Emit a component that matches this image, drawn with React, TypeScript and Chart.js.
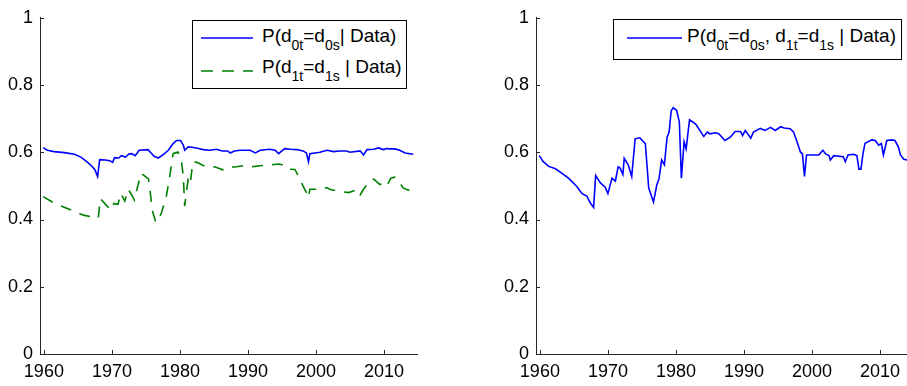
import React, { useEffect, useRef } from "react";
import { Chart, registerables } from "chart.js";
Chart.register(...registerables);

const xTickYears = [1960, 1970, 1980, 1990, 2000, 2010];
const yTickValues = [0, 0.2, 0.4, 0.6, 0.8, 1];

const leftBlueYears = [1959.9, 1960.5, 1961.5, 1963.0, 1964.5, 1965.5, 1966.3, 1967.0, 1967.5, 1967.9, 1968.2, 1969.0, 1969.7, 1970.1, 1970.4, 1971.0, 1971.4, 1972.0, 1972.5, 1972.9, 1973.4, 1973.7, 1974.0, 1975.3, 1975.8, 1976.2, 1976.8, 1977.5, 1978.3, 1979.0, 1979.5, 1980.1, 1980.5, 1980.7, 1981.2, 1982.0, 1982.6, 1983.4, 1984.4, 1985.4, 1986.2, 1987.0, 1987.4, 1988.0, 1988.9, 1990.3, 1991.1, 1991.8, 1993.2, 1994.0, 1994.5, 1995.4, 1996.3, 1997.2, 1998.1, 1998.6, 1998.9, 1999.1, 2000.6, 2001.6, 2002.6, 2003.5, 2004.5, 2005.0, 2006.5, 2007.0, 2007.5, 2008.5, 2009.2, 2009.9, 2010.4, 2011.0, 2011.6, 2012.3, 2013.1, 2014.3];
const leftBlueValues = [0.614, 0.606, 0.602, 0.599, 0.594, 0.585, 0.572, 0.56, 0.548, 0.528, 0.578, 0.577, 0.575, 0.57, 0.584, 0.583, 0.59, 0.586, 0.595, 0.596, 0.59, 0.597, 0.606, 0.608, 0.597, 0.588, 0.583, 0.592, 0.606, 0.626, 0.635, 0.635, 0.621, 0.606, 0.616, 0.614, 0.612, 0.608, 0.606, 0.609, 0.604, 0.604, 0.598, 0.604, 0.606, 0.606, 0.598, 0.606, 0.609, 0.606, 0.596, 0.611, 0.609, 0.608, 0.604, 0.598, 0.572, 0.596, 0.6, 0.606, 0.602, 0.604, 0.604, 0.6, 0.604, 0.592, 0.608, 0.609, 0.613, 0.608, 0.611, 0.61, 0.61, 0.606, 0.598, 0.594];

const leftGreenYears = [1959.9, 1961.4, 1962.8, 1964.3, 1965.8, 1967.5, 1968.0, 1968.3, 1969.3, 1969.9, 1970.3, 1970.9, 1971.3, 1971.9, 1972.4, 1973.0, 1973.3, 1973.8, 1974.3, 1974.8, 1975.4, 1975.7, 1975.9, 1976.4, 1976.7, 1977.3, 1978.0, 1978.5, 1979.0, 1979.7, 1980.2, 1980.5, 1980.7, 1981.0, 1981.2, 1981.5, 1981.9, 1982.5, 1983.2, 1984.0, 1985.0, 1985.4, 1986.3, 1987.1, 1988.3, 1989.3, 1990.3, 1991.0, 1991.8, 1993.2, 1994.5, 1995.0, 1995.7, 1996.9, 1997.6, 1998.1, 1998.6, 1998.9, 1999.1, 2000.0, 2000.8, 2001.6, 2002.1, 2003.5, 2004.8, 2005.5, 2006.2, 2006.5, 2007.0, 2007.5, 2008.0, 2008.5, 2009.4, 2009.9, 2010.4, 2011.0, 2011.6, 2012.1, 2012.8, 2013.5, 2014.3];
const leftGreenValues = [0.468, 0.45, 0.438, 0.426, 0.413, 0.406, 0.405, 0.462, 0.44, 0.428, 0.448, 0.445, 0.478, 0.455, 0.49, 0.47, 0.458, 0.5, 0.538, 0.53, 0.52, 0.47, 0.43, 0.395, 0.392, 0.421, 0.47, 0.528, 0.596, 0.601, 0.577, 0.528, 0.44, 0.489, 0.518, 0.504, 0.572, 0.57, 0.563, 0.555, 0.557, 0.555, 0.548, 0.555, 0.557, 0.56, 0.557, 0.558, 0.56, 0.562, 0.565, 0.563, 0.55, 0.549, 0.523, 0.499, 0.48, 0.465, 0.49, 0.49, 0.489, 0.495, 0.489, 0.484, 0.48, 0.485, 0.489, 0.474, 0.49, 0.504, 0.516, 0.52, 0.504, 0.507, 0.499, 0.523, 0.526, 0.518, 0.494, 0.488, 0.489];

const rightBlueYears = [1959.9, 1960.5, 1961.3, 1962.3, 1963.2, 1964.2, 1965.4, 1966.2, 1966.9, 1967.4, 1967.9, 1968.2, 1968.9, 1969.6, 1970.0, 1970.6, 1971.1, 1971.5, 1971.8, 1972.2, 1972.4, 1973.0, 1973.5, 1974.0, 1974.7, 1975.5, 1976.0, 1976.7, 1977.2, 1977.5, 1977.9, 1978.3, 1978.7, 1979.0, 1979.3, 1979.6, 1980.1, 1980.5, 1980.8, 1981.2, 1981.5, 1982.0, 1982.9, 1984.1, 1984.6, 1985.0, 1985.8, 1986.3, 1987.2, 1988.0, 1988.7, 1989.5, 1989.8, 1990.2, 1991.0, 1991.4, 1992.4, 1993.1, 1993.9, 1994.6, 1995.4, 1995.9, 1996.8, 1997.3, 1997.8, 1998.3, 1998.6, 1998.9, 1999.2, 1999.8, 2001.0, 2001.6, 2002.0, 2002.5, 2002.7, 2003.2, 2004.6, 2004.9, 2005.3, 2006.1, 2006.6, 2006.9, 2007.2, 2007.5, 2007.8, 2008.8, 2009.3, 2009.8, 2010.2, 2010.5, 2011.0, 2011.7, 2012.2, 2012.7, 2013.0, 2013.5, 2014.0];
const rightBlueValues = [0.59, 0.572, 0.558, 0.551, 0.538, 0.523, 0.499, 0.477, 0.47, 0.45, 0.436, 0.531, 0.509, 0.496, 0.477, 0.523, 0.514, 0.557, 0.553, 0.534, 0.582, 0.562, 0.528, 0.64, 0.643, 0.626, 0.494, 0.452, 0.504, 0.52, 0.577, 0.563, 0.645, 0.66, 0.723, 0.733, 0.725, 0.69, 0.523, 0.631, 0.61, 0.697, 0.684, 0.647, 0.66, 0.655, 0.658, 0.655, 0.635, 0.645, 0.662, 0.662, 0.65, 0.665, 0.642, 0.66, 0.671, 0.665, 0.674, 0.665, 0.676, 0.672, 0.67, 0.66, 0.631, 0.601, 0.595, 0.528, 0.592, 0.592, 0.592, 0.606, 0.595, 0.59, 0.577, 0.59, 0.587, 0.572, 0.592, 0.594, 0.59, 0.55, 0.55, 0.596, 0.627, 0.637, 0.635, 0.621, 0.626, 0.592, 0.635, 0.637, 0.635, 0.616, 0.592, 0.579, 0.577];

const xMin = 1959.43;
const xMax = 2014.85;

const FONT = '"Liberation Sans", Arial, Helvetica, sans-serif';
const AXIS_COLOR = "#262626";

const inwardTicks = {
  id: "inwardTicks",
  afterDraw(chart: any) {
    const { ctx, chartArea, scales } = chart;
    ctx.save();
    ctx.strokeStyle = AXIS_COLOR;
    ctx.lineWidth = 1;
    scales.x.ticks.forEach((t: any) => {
      const px = Math.round(scales.x.getPixelForValue(t.value)) + 0.5;
      ctx.beginPath();
      ctx.moveTo(px, chartArea.bottom);
      ctx.lineTo(px, chartArea.bottom - 4);
      ctx.stroke();
    });
    scales.y.ticks.forEach((t: any) => {
      const py = Math.round(scales.y.getPixelForValue(t.value)) + 0.5;
      ctx.beginPath();
      ctx.moveTo(chartArea.left, py);
      ctx.lineTo(chartArea.left + 4, py);
      ctx.stroke();
    });
    ctx.restore();
  },
};

type Series = { years: number[]; values: number[]; color: string; dash?: number[] };

function makeOptions(): any {
  return {
    responsive: false,
    animation: false,
    devicePixelRatio: 1,
    layout: { padding: { left: 0, top: 12, right: 36, bottom: 0 } },
    plugins: { legend: { display: false }, tooltip: { enabled: false } },
    elements: { point: { radius: 0 }, line: { tension: 0 } },
    scales: {
      x: {
        type: "linear",
        min: xMin,
        max: xMax,
        afterBuildTicks: (s: any) => {
          s.ticks = xTickYears.map((v) => ({ value: v }));
        },
        afterFit: (s: any) => {
          s.height = 32;
        },
        grid: { display: false, drawTicks: false, tickLength: 0 },
        border: { display: true, color: AXIS_COLOR, width: 1 },
        ticks: {
          color: "#000",
          padding: 7,
          maxRotation: 0,
          autoSkip: false,
          font: { family: FONT, size: 18 },
          callback: (v: any) => String(v),
        },
      },
      y: {
        type: "linear",
        min: 0,
        max: 1,
        afterBuildTicks: (s: any) => {
          s.ticks = yTickValues.map((v) => ({ value: v }));
        },
        afterFit: (s: any) => {
          s.width = 40;
        },
        grid: { display: false, drawTicks: false, tickLength: 0 },
        border: { display: true, color: AXIS_COLOR, width: 1 },
        ticks: {
          color: "#000",
          padding: 7,
          autoSkip: false,
          font: { family: FONT, size: 18 },
          callback: (v: any) => String(v),
        },
      },
    },
  };
}

function Plot({ series, left, width }: { series: Series[]; left: number; width: number }) {
  const ref = useRef<HTMLCanvasElement>(null);
  useEffect(() => {
    if (!ref.current) return;
    const chart = new Chart(ref.current, {
      type: "line",
      data: {
        datasets: series.map((s) => ({
          data: s.years.map((y, i) => ({ x: y, y: s.values[i] })),
          borderColor: s.color,
          borderWidth: 1.6,
          borderDash: s.dash || [],
          pointRadius: 0,
          fill: false,
        })),
      },
      options: makeOptions(),
      plugins: [inwardTicks],
    } as any);
    return () => chart.destroy();
  }, []);
  return (
    <canvas
      ref={ref}
      width={width}
      height={386}
      style={{ position: "absolute", left, top: 0, width, height: 386 }}
    />
  );
}

const textStyle: React.CSSProperties = {
  position: "absolute",
  fontFamily: FONT,
  fontSize: 19,
  lineHeight: "19px",
  whiteSpace: "nowrap",
  color: "#000",
};
const subStyle: React.CSSProperties = {
  position: "relative",
  top: 8,
  fontSize: 14,
};

function Sub({ children }: { children: React.ReactNode }) {
  return <span style={subStyle}>{children}</span>;
}

function LineSample({ left, top, width, color, dash }: { left: number; top: number; width: number; color: string; dash?: string }) {
  return (
    <svg style={{ position: "absolute", left, top: top - 2 }} width={width} height={4}>
      <line x1={0} y1={2} x2={width} y2={2} stroke={color} strokeWidth={1.6} strokeDasharray={dash} />
    </svg>
  );
}

export default function App() {
  return (
    <div
      style={{
        position: "fixed",
        left: 0,
        top: 0,
        width: 907,
        height: 386,
        overflow: "hidden",
        background: "#fff",
      }}
    >
      <Plot
        left={0}
        width={453}
        series={[
          { years: leftBlueYears, values: leftBlueValues, color: "#0000ff" },
          { years: leftGreenYears, values: leftGreenValues, color: "#008000", dash: [11, 9] },
        ]}
      />
      <Plot left={496} width={453} series={[{ years: rightBlueYears, values: rightBlueValues, color: "#0000ff" }]} />

      <div
        style={{
          position: "absolute",
          left: 192,
          top: 20,
          width: 215,
          height: 69,
          boxSizing: "border-box",
          border: "1px solid #000",
          background: "#fff",
        }}
      />
      <LineSample left={201} top={38} width={52} color="#0000ff" />
      <LineSample left={201} top={71} width={52} color="#008000" dash="12 9" />
      <div style={{ ...textStyle, left: 262, top: 25.5 }}>
        P(d<Sub>0t</Sub>=d<Sub>0s</Sub>| Data)
      </div>
      <div style={{ ...textStyle, left: 262, top: 57 }}>
        P(d<Sub>1t</Sub>=d<Sub>1s</Sub> | Data)
      </div>

      <div
        style={{
          position: "absolute",
          left: 613,
          top: 19,
          width: 289,
          height: 41,
          boxSizing: "border-box",
          border: "1px solid #000",
          background: "#fff",
        }}
      />
      <LineSample left={627} top={38} width={55} color="#0000ff" />
      <div style={{ ...textStyle, left: 687, top: 25.5 }}>
        P(d<Sub>0t</Sub>=d<Sub>0s</Sub>, d<Sub>1t</Sub>=d<Sub>1s</Sub> | Data)
      </div>
    </div>
  );
}
